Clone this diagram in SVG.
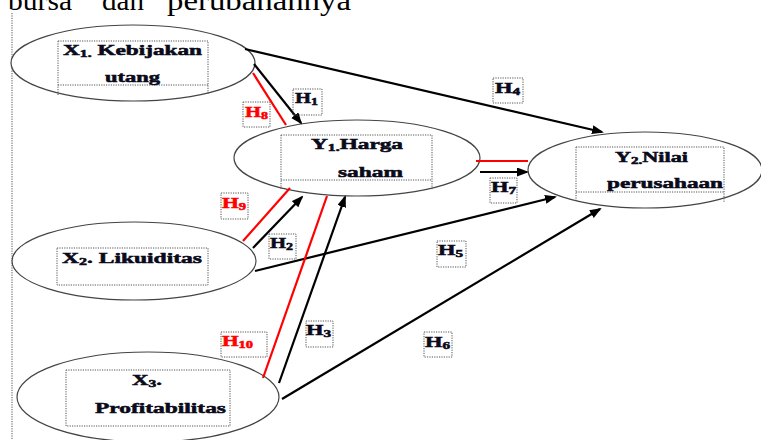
<svg xmlns="http://www.w3.org/2000/svg" width="761" height="440" viewBox="0 0 761 440">
  <defs>
    <style>
      .node { fill: #fff; stroke: #444; stroke-width: 1.2; }
      .box { fill: none; stroke: #555; stroke-width: 1; stroke-dasharray: 1.2 1.2; }
      .lbl, .hl { font-family: "Liberation Serif", "Times New Roman", serif; font-weight: bold; font-size: 15.5px; fill: #0a0a1a; stroke: #0a0a1a; stroke-width: 0.55; }
      .red { fill: #ff0000; stroke: #ff0000; }
      .sub { font-size: 10.5px; }
      .arrow { stroke: #000; stroke-width: 2.2; fill: none; }
      .redline { stroke: #ff0000; stroke-width: 2.2; fill: none; }
      .head { font-family: "Liberation Serif", "Times New Roman", serif; font-size: 28px; fill: #000; }
    </style>
    <marker id="tip" markerUnits="userSpaceOnUse" markerWidth="12" markerHeight="10" refX="10" refY="4.5" orient="auto">
      <path d="M0,0 L12,4.5 L0,9 z" fill="#000"/>
    </marker>
  </defs>

  <rect width="761" height="440" fill="#fff"/>

  <!-- running heading line, clipped by the top edge -->
  <text class="head" x="8" y="10" textLength="64" lengthAdjust="spacingAndGlyphs">bursa</text>
  <text class="head" x="102" y="10" textLength="42" lengthAdjust="spacingAndGlyphs">dan</text>
  <text class="head" x="167" y="10" textLength="184" lengthAdjust="spacingAndGlyphs">perubahannya</text>

  <!-- margin guide -->
  <line x1="12" y1="13" x2="12" y2="440" stroke="#555" stroke-width="1" stroke-dasharray="1.2 1.2"/>

  <g id="x1">
    <ellipse class="node" cx="133" cy="63" rx="122" ry="38"/>
    <path class="box" d="M58,41 H208 V95 M58,41 V95 M58,85 H208"/>
    <text class="lbl" x="63" y="55" textLength="139" lengthAdjust="spacingAndGlyphs">X<tspan class="sub" dy="2">1.</tspan><tspan dy="-2"> Kebijakan</tspan></text>
    <text class="lbl" x="105" y="82" textLength="55" lengthAdjust="spacingAndGlyphs">utang</text>
  </g>

  <g id="x2">
    <ellipse class="node" cx="134" cy="261" rx="122" ry="39"/>
    <rect class="box" x="57" y="248" width="151" height="37"/>
    <text class="lbl" x="62" y="263" textLength="140" lengthAdjust="spacingAndGlyphs">X<tspan class="sub" dy="2">2</tspan><tspan dy="-2">. Likuiditas</tspan></text>
  </g>

  <g id="x3">
    <ellipse class="node" cx="148" cy="397" rx="131" ry="45"/>
    <rect class="box" x="66" y="370" width="164" height="56"/>
    <text class="lbl" x="132" y="385" textLength="30" lengthAdjust="spacingAndGlyphs">X<tspan class="sub" dy="2">3</tspan><tspan dy="-2">.</tspan></text>
    <text class="lbl" x="95" y="413" textLength="131" lengthAdjust="spacingAndGlyphs">Profitabilitas</text>
  </g>

  <g id="y1">
    <ellipse class="node" cx="357" cy="158" rx="123" ry="38"/>
    <path class="box" d="M281,135 H432 V190 M281,135 V190 M281,180 H432"/>
    <text class="lbl" x="311" y="149" textLength="92" lengthAdjust="spacingAndGlyphs">Y<tspan class="sub" dy="2">1.</tspan><tspan dy="-2">Harga</tspan></text>
    <text class="lbl" x="338" y="177" textLength="65" lengthAdjust="spacingAndGlyphs">saham</text>
  </g>

  <g id="y2">
    <ellipse class="node" cx="645" cy="170" rx="117" ry="38"/>
    <path class="box" d="M576,147 H724 V202 M576,147 V202 M576,192 H724"/>
    <text class="lbl" x="615" y="162" textLength="73" lengthAdjust="spacingAndGlyphs">Y<tspan class="sub" dy="2">2.</tspan><tspan dy="-2">Nilai</tspan></text>
    <text class="lbl" x="607" y="188" textLength="116" lengthAdjust="spacingAndGlyphs">perusahaan</text>
  </g>

  <g id="connectors">
    <line class="arrow" x1="254" y1="64" x2="301" y2="123" marker-end="url(#tip)"/>
    <line class="arrow" x1="245" y1="49" x2="602" y2="132" marker-end="url(#tip)"/>
    <line class="arrow" x1="480" y1="172" x2="527" y2="172" marker-end="url(#tip)"/>
    <line class="arrow" x1="253" y1="248" x2="302" y2="197" marker-end="url(#tip)"/>
    <line class="arrow" x1="255" y1="271" x2="555" y2="197" marker-end="url(#tip)"/>
    <line class="arrow" x1="279" y1="383" x2="345" y2="197" marker-end="url(#tip)"/>
    <line class="arrow" x1="282" y1="399" x2="600" y2="209" marker-end="url(#tip)"/>
    <line class="redline" x1="253" y1="73" x2="286" y2="125"/>
    <line class="redline" x1="476" y1="161" x2="528" y2="161"/>
    <line class="redline" x1="243" y1="241" x2="290" y2="188"/>
    <line class="redline" x1="263" y1="378" x2="327" y2="196"/>
  </g>

  <g id="hypotheses">
    <g id="h1">
      <rect class="box" x="293" y="89" width="29" height="26"/>
      <text class="hl" x="295" y="103" textLength="23" lengthAdjust="spacingAndGlyphs">H<tspan class="sub" dy="2">1</tspan></text>
    </g>
    <g id="h2">
      <rect class="box" x="269" y="234" width="27" height="25"/>
      <text class="hl" x="270" y="248" textLength="23" lengthAdjust="spacingAndGlyphs">H<tspan class="sub" dy="2">2</tspan></text>
    </g>
    <g id="h3">
      <rect class="box" x="306" y="321" width="27" height="26"/>
      <text class="hl" x="306" y="335" textLength="25" lengthAdjust="spacingAndGlyphs">H<tspan class="sub" dy="2">3</tspan></text>
    </g>
    <g id="h4">
      <rect class="box" x="493" y="78" width="30" height="25"/>
      <text class="hl" x="495" y="93" textLength="25" lengthAdjust="spacingAndGlyphs">H<tspan class="sub" dy="2">4</tspan></text>
    </g>
    <g id="h5">
      <rect class="box" x="437" y="241" width="29" height="26"/>
      <text class="hl" x="438" y="255" textLength="25" lengthAdjust="spacingAndGlyphs">H<tspan class="sub" dy="2">5</tspan></text>
    </g>
    <g id="h6">
      <rect class="box" x="424" y="332" width="28" height="25"/>
      <text class="hl" x="425" y="347" textLength="25" lengthAdjust="spacingAndGlyphs">H<tspan class="sub" dy="2">6</tspan></text>
    </g>
    <g id="h7">
      <rect class="box" x="490" y="178" width="27" height="25"/>
      <text class="hl" x="491" y="192" textLength="25" lengthAdjust="spacingAndGlyphs">H<tspan class="sub" dy="2">7</tspan></text>
    </g>
    <g id="h8">
      <rect class="box" x="243" y="102" width="27" height="25"/>
      <text class="hl red" x="245" y="117" textLength="23" lengthAdjust="spacingAndGlyphs">H<tspan class="sub" dy="2">8</tspan></text>
    </g>
    <g id="h9">
      <rect class="box" x="221" y="193" width="27" height="26"/>
      <text class="hl red" x="222" y="208" textLength="24" lengthAdjust="spacingAndGlyphs">H<tspan class="sub" dy="2">9</tspan></text>
    </g>
    <g id="h10">
      <rect class="box" x="221" y="332" width="46" height="25"/>
      <text class="hl red" x="222" y="346" textLength="31" lengthAdjust="spacingAndGlyphs">H<tspan class="sub" dy="2">10</tspan></text>
    </g>
  </g>
</svg>
